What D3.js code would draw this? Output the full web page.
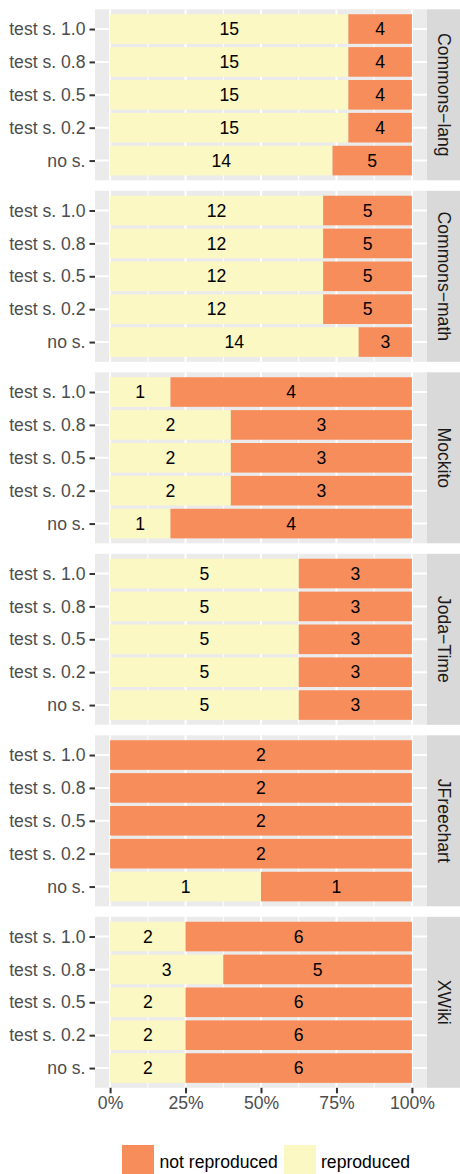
<!DOCTYPE html>
<html>
<head>
<meta charset="utf-8">
<script src="https://cdn.jsdelivr.net/npm/d3@7"></script>
<style>
html,body{margin:0;padding:0;background:#fff;}
svg{display:block;font-family:"Liberation Sans",Arial,sans-serif;}
</style>
</head>
<body>
<div id="chart"></div>
<script>
// ---- data ----
const projects = ["Commons−lang", "Commons−math", "Mockito", "Joda−Time", "JFreechart", "XWiki"];
const settings = ["test s. 1.0", "test s. 0.8", "test s. 0.5", "test s. 0.2", "no s."];
const reproduced = [
  [15, 15, 15, 15, 14],
  [12, 12, 12, 12, 14],
  [1, 2, 2, 2, 1],
  [5, 5, 5, 5, 5],
  [0, 0, 0, 0, 1],
  [2, 3, 2, 2, 2]
];
const notReproduced = [
  [4, 4, 4, 4, 5],
  [5, 5, 5, 5, 3],
  [4, 3, 3, 3, 4],
  [3, 3, 3, 3, 3],
  [2, 2, 2, 2, 1],
  [6, 5, 6, 6, 6]
];
const xTicks = [0, 0.25, 0.5, 0.75, 1];
const legendLabels = ["not reproduced", "reproduced"];

// ---- style ----
const W = 460, H = 1174;
const colNot = "#F68D5B", colRep = "#FBF8C3";
const panelLeft = 95, panelRight = 427, stripW = 34;
const panelTop0 = 9.3, panelH = 171, panelStep = 181.5;
const fs = 17.6;

const svg = d3.select("#chart").append("svg").attr("width", W).attr("height", H);

const x = d3.scaleLinear().domain([-0.05, 1.05]).range([panelLeft, panelRight]);
const minorTicks = [0.125, 0.375, 0.625, 0.875];

projects.forEach((p, pi) => {
  const top = panelTop0 + pi * panelStep;
  const y = d3.scalePoint().domain(settings).range([top, top + panelH]).padding(0.6);
  const bh = y.step() * 0.9;
  const g = svg.append("g");
  g.append("rect").attr("x", panelLeft).attr("y", top).attr("width", panelRight - panelLeft).attr("height", panelH).attr("fill", "#EBEBEB");
  // grid
  g.selectAll(".minor").data(minorTicks).join("line")
    .attr("x1", d => x(d)).attr("x2", d => x(d)).attr("y1", top).attr("y2", top + panelH)
    .attr("stroke", "#fff").attr("stroke-width", 1);
  g.selectAll(".major").data(xTicks).join("line")
    .attr("x1", d => x(d)).attr("x2", d => x(d)).attr("y1", top).attr("y2", top + panelH)
    .attr("stroke", "#fff").attr("stroke-width", 2);
  g.selectAll(".hmaj").data(settings).join("line")
    .attr("x1", panelLeft).attr("x2", panelRight).attr("y1", d => y(d)).attr("y2", d => y(d))
    .attr("stroke", "#fff").attr("stroke-width", 2);
  // bars
  settings.forEach((s, si) => {
    const r = reproduced[pi][si], n = notReproduced[pi][si], tot = r + n;
    const segs = [
      {v: r, x0: 0, x1: r / tot, c: colRep},
      {v: n, x0: r / tot, x1: 1, c: colNot}
    ];
    segs.forEach(sg => {
      if (sg.v <= 0) return;
      g.append("rect").attr("x", x(sg.x0)).attr("y", y(s) - bh / 2)
        .attr("width", x(sg.x1) - x(sg.x0)).attr("height", bh).attr("fill", sg.c);
      g.append("text").attr("x", (x(sg.x0) + x(sg.x1)) / 2).attr("y", y(s))
        .attr("dy", "0.35em").attr("text-anchor", "middle").attr("font-size", fs)
        .attr("fill", "#000").text(sg.v);
    });
  });
  // y axis
  const yAxis = d3.axisLeft(y).tickSize(5.5).tickPadding(4);
  const ya = g.append("g").attr("transform", `translate(${panelLeft},0)`).call(yAxis);
  ya.select(".domain").remove();
  ya.selectAll(".tick line").attr("stroke", "#333").attr("stroke-width", 2);
  ya.selectAll(".tick text").attr("font-size", fs).attr("fill", "#4D4D4D").attr("font-family", "Liberation Sans, Arial, sans-serif");
  // strip
  g.append("rect").attr("x", panelRight).attr("y", top).attr("width", stripW).attr("height", panelH).attr("fill", "#D9D9D9");
  g.append("text").attr("transform", `translate(${panelRight + stripW / 2},${top + panelH / 2}) rotate(90)`)
    .attr("text-anchor", "middle").attr("dy", "0.35em").attr("font-size", fs).attr("fill", "#1A1A1A").text(p);

  if (pi === projects.length - 1) {
    const xAxis = d3.axisBottom(x).tickValues(xTicks).tickFormat(d3.format(".0%")).tickSize(5.5).tickPadding(3);
    const xa = g.append("g").attr("transform", `translate(0,${top + panelH})`).call(xAxis);
    xa.select(".domain").remove();
    xa.selectAll(".tick line").attr("stroke", "#333").attr("stroke-width", 2);
    xa.selectAll(".tick text").attr("font-size", fs).attr("fill", "#4D4D4D").attr("font-family", "Liberation Sans, Arial, sans-serif");
  }
});

// legend
const legend = [
  {label: legendLabels[0], c: colNot, kx: 122, tx: 159.5},
  {label: legendLabels[1], c: colRep, kx: 284, tx: 321}
];
const lg = svg.append("g");
legend.forEach(l => {
  lg.append("rect").attr("x", l.kx).attr("y", 1145).attr("width", 32).attr("height", 32).attr("fill", l.c);
  lg.append("text").attr("x", l.tx).attr("y", 1161.5).attr("dy", "0.35em").attr("font-size", fs).attr("fill", "#000").text(l.label);
});
</script>
</body>
</html>
